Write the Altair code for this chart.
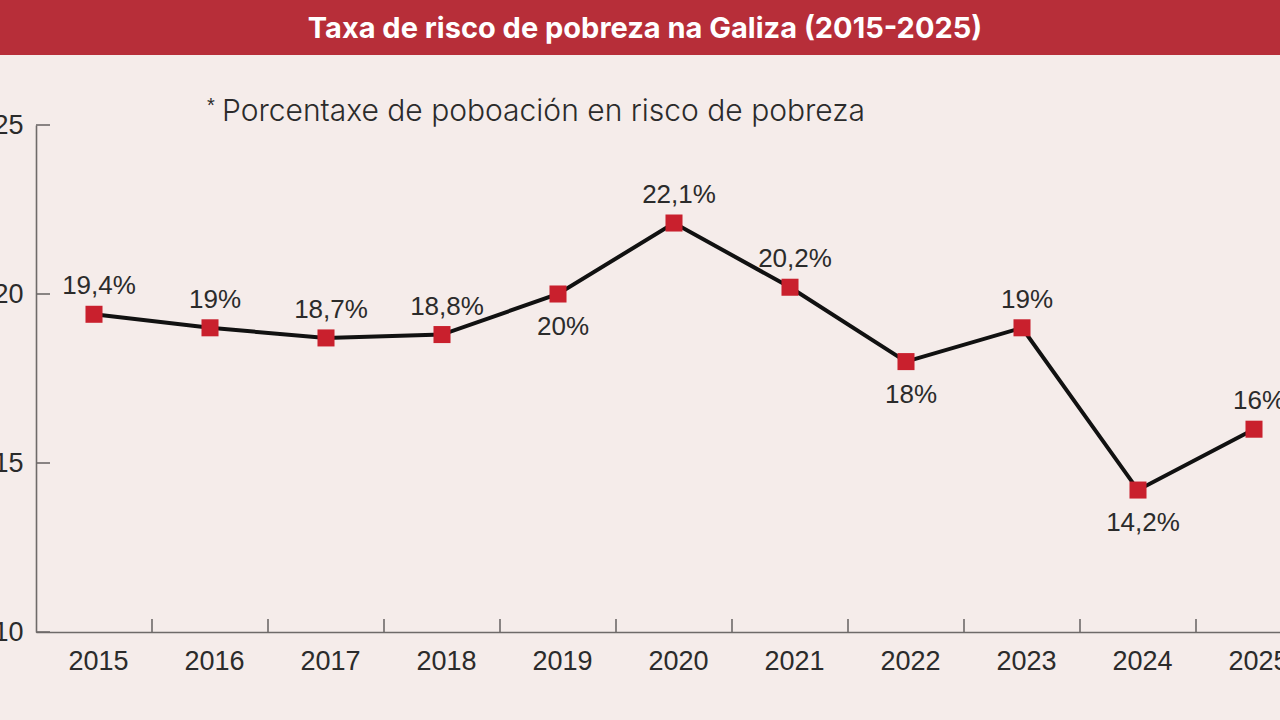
import altair as alt
import pandas as pd

# Poverty-risk rate in Galicia, by year
years = [2015, 2016, 2017, 2018, 2019, 2020, 2021, 2022, 2023, 2024, 2025]
rates = [19.4, 19.0, 18.7, 18.8, 20.0, 22.1, 20.2, 18.0, 19.0, 14.2, 16.0]
# years whose value label sits under the marker
label_below = [2019, 2022, 2024]
y_ticks = [10, 15, 20, 25]

title_text = "Taxa de risco de pobreza na Galiza (2015-2025)"
note_text = "Porcentaxe de poboación en risco de pobreza"

FONT = "Liberation Sans"
HEAD_FONT = "Inter"
BG = "#f5ecea"
RED_BAR = "#b72e39"
RED_PT = "#c9202d"
INK = "#2b2b2b"
AXIS_GREY = "#6e6a69"

df = pd.DataFrame({
    "year": years,
    "rate": rates,
    "label": [f"{v:g}".replace(".", ",") + "%" for v in rates],
    "below": [y in label_below for y in years],
})
# boundaries between consecutive years carry the x-axis ticks
bounds = pd.DataFrame({"b": [y + 0.5 for y in years]})
yt = pd.DataFrame({"v": y_ticks})

W, H = 1244, 507
x_scale = alt.Scale(domain=[2014.5, 2025.5], range=[0, 1276], nice=False, zero=False)
y_scale = alt.Scale(domain=[10, 25], nice=False, zero=False)

x_enc = alt.X(
    "year:Q", scale=x_scale, title=None,
    axis=alt.Axis(values=years, format="d", ticks=False, grid=False,
                  labelFont=FONT, labelFontSize=27, labelColor=INK,
                  labelPadding=16, labelOffset=4, domainColor=AXIS_GREY, domainWidth=1.6,
                  labelFlush=False, labelOverlap=False),
)
y_enc = alt.Y(
    "rate:Q", scale=y_scale, title=None,
    axis=alt.Axis(values=y_ticks, ticks=False, grid=False,
                  labelFont=FONT, labelFontSize=27, labelColor=INK,
                  labelPadding=13, domainColor=AXIS_GREY, domainWidth=1.6),
)

base = alt.Chart(df)

line = base.mark_line(color="#111111", strokeWidth=4).encode(x=x_enc, y=y_enc)
points = base.mark_square(color=RED_PT, size=290, opacity=1).encode(x="year:Q", y="rate:Q")

txt = dict(font=FONT, fontSize=26, color=INK, align="center", baseline="middle", dx=5)
labels_above = base.transform_filter("!datum.below").mark_text(dy=-28, **txt).encode(
    x="year:Q", y="rate:Q", text="label:N")
labels_below = base.transform_filter("datum.below").mark_text(dy=33, **txt).encode(
    x="year:Q", y="rate:Q", text="label:N")

x_ticks = alt.Chart(bounds).mark_rule(color=AXIS_GREY, strokeWidth=1.6).encode(
    x=alt.X("b:Q", scale=x_scale), y=alt.value(H - 13), y2=alt.value(H))
y_tick_marks = alt.Chart(yt).mark_rule(color=AXIS_GREY, strokeWidth=1.6).encode(
    y=alt.Y("v:Q", scale=y_scale), x=alt.value(0), x2=alt.value(14))

one = pd.DataFrame({"t": [title_text], "n": [note_text]})
bar = alt.Chart(one).mark_rect(color=RED_BAR).encode(
    x=alt.value(-36), x2=alt.value(W), y=alt.value(-125), y2=alt.value(-70))
title = alt.Chart(one).mark_text(font=HEAD_FONT, fontSize=29, fontWeight="bold", color="white",
                                 align="center", baseline="middle").encode(
    x=alt.value(609), y=alt.value(-96), text="t:N")
star = alt.Chart(one).mark_text(font=FONT, fontSize=20, color=INK, align="left",
                                baseline="middle").encode(
    x=alt.value(171), y=alt.value(-19), text=alt.value("*"))
note = alt.Chart(one).mark_text(font=HEAD_FONT, fontSize=30, fontWeight=300, color=INK,
                                align="left", baseline="middle").encode(
    x=alt.value(186), y=alt.value(-13), text="n:N")

chart = alt.layer(
    bar, title, star, note, x_ticks, y_tick_marks, line, points, labels_above, labels_below
).properties(
    width=W, height=H,
    autosize=alt.AutoSizeParams(type="none"),
    padding={"left": 36, "top": 125, "right": 0, "bottom": 88},
    background=BG,
).configure_view(stroke=None, clip=False)

chart.save("out.html", embed_options={"renderer": "svg", "actions": False})
